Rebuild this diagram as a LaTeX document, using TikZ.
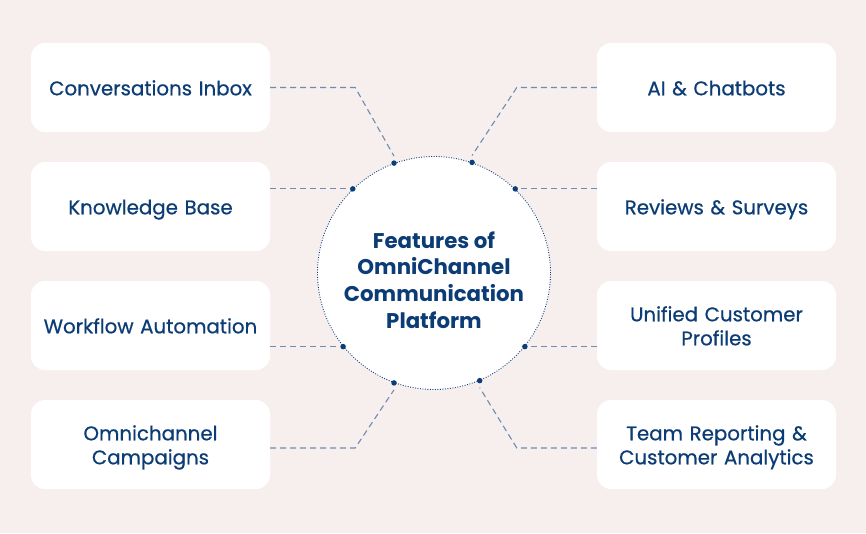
\documentclass[tikz,border=0pt]{standalone}
\usepackage{fontspec}
\setmainfont{Poppins}[FakeBold=0.6]
\newfontfamily\titlefont{Poppins}
\usetikzlibrary{positioning}
\definecolor{colbg}{RGB}{247,239,238}
\definecolor{coltext}{RGB}{12,60,117}
\definecolor{colline}{RGB}{110,140,178}
\definecolor{coldot}{RGB}{10,62,122}
\tikzset{
  feature/.style={
    rectangle,
    rounded corners=14pt,
    fill=white,
    minimum width=239pt,
    minimum height=89pt,
    inner xsep=1pt,
    text width=237pt,
    align=center,
    text=coltext,
    font=\fontsize{19.8}{24}\selectfont,
    execute at begin node={\rule{0pt}{22.8pt}},
    execute at end node=\strut
  },
  hub/.style={
    circle,
    fill=white,
    draw=coldot,
    line width=0.9pt,
    dash pattern=on 0.9pt off 1.6pt,
    minimum size=233pt
  },
  title/.style={
    align=center,
    text=coltext,
    font=\titlefont\fontsize{21.3}{26.6}\selectfont\bfseries
  },
  link/.style={colline, line width=1.1pt, dash pattern=on 6pt off 4pt},
  pin/.style={circle, fill=coldot, inner sep=0pt, minimum size=5.5pt}
}

\begin{document}
\begin{tikzpicture}[x=1pt,y=-1pt]
  % canvas
  \useasboundingbox[fill=colbg] (0,0) rectangle (866,533);

  % the centre
  \node[hub] (hub) at (434,273) {};
  \node[title] (caption) at (434,280)
    {Features of\\OmniChannel\\Communication\\Platform};

  % left column
  \node[feature] (inbox) at (150.5,87.5) {Conversations Inbox};
  \node[feature] (kbase) at (150.5,206.5) {Knowledge Base};
  \node[feature] (workflow) at (150.5,325.5) {Workflow Automation};
  \node[feature] (campaign) at (150.5,444.5) {Omnichannel\\Campaigns};

  % right column
  \node[feature] (chatbot) at (716.5,87.5) {AI \& Chatbots};
  \node[feature] (survey) at (716.5,206.5) {Reviews \& Surveys};
  \node[feature] (profile) at (716.5,325.5) {Unified Customer\\Profiles};
  \node[feature] (report) at (716.5,444.5) {Team Reporting \&\\Customer Analytics};

  % the pins on the circle
  \foreach \name/\ang in {pinA/110, pinB/71, pinC/134, pinD/46,
                          pinE/219, pinF/321, pinG/250, pinH/293}
    \node[pin] (\name) at (hub.\ang) {};

  % connectors
  \draw[link] (inbox.east) -- ++(85,0) -- ([yshift=4pt]pinA.north);
  \draw[link] (chatbot.west) -- ++(-80,0) -- ([yshift=4pt]pinB.north);
  \draw[link] (kbase.east |- pinC) -- (pinC);
  \draw[link] (survey.west |- pinD) -- (pinD);
  \draw[link] (workflow.east |- pinE) -- (pinE);
  \draw[link] (profile.west |- pinF) -- (pinF);
  \draw[link] (campaign.east |- 0,448) -- ++(85,0) -- ([yshift=-4pt]pinG.south);
  \draw[link] (report.west |- 0,448) -- ++(-80,0) -- ([yshift=-4pt]pinH.south);
\end{tikzpicture}
\end{document}
